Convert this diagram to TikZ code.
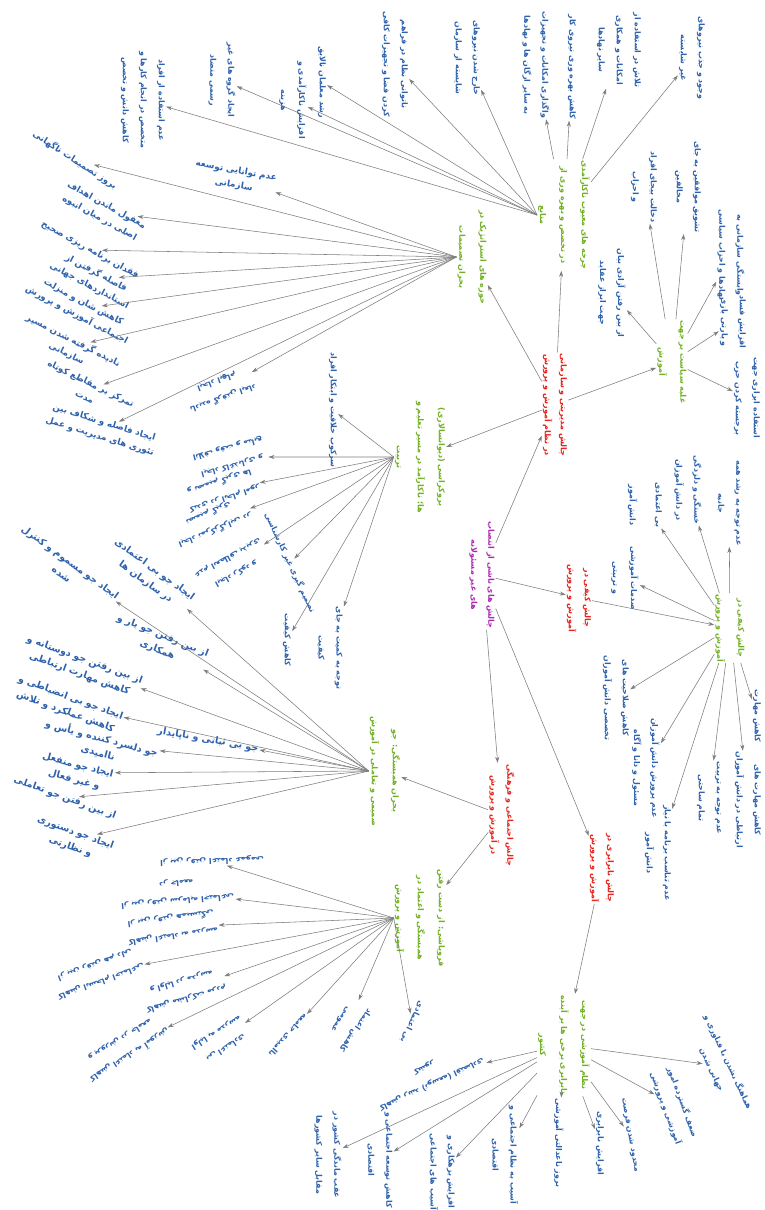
\documentclass[tikz,border=0pt]{standalone}
\usepackage{fontspec}
\newfontfamily\fa[Script=Arabic]{DejaVu Sans}
\TeXXeTstate=1
\usetikzlibrary{arrows.meta}
\definecolor{leafblue}{RGB}{46,98,172}
\definecolor{subgreen}{RGB}{114,176,36}
\definecolor{mainred}{RGB}{230,36,28}
\definecolor{rootpurple}{RGB}{172,40,178}
\definecolor{arrgray}{RGB}{125,125,125}
\newcommand{\rl}[1]{\beginR #1\endR}
\begin{document}
\begin{tikzpicture}[x=1pt,y=-1pt,
    every node/.style={font=\fa\bfseries\fontsize{7.9}{18}\selectfont, align=center, inner sep=1pt},
    leaf/.style={text=leafblue},
    tilted/.style={text=leafblue, font=\fa\bfseries\fontsize{8.8}{14.5}\selectfont},
    wide/.style={text=leafblue, font=\fa\bfseries\fontsize{9.6}{15}\selectfont},
    sub/.style={text=subgreen, font=\fa\bfseries\fontsize{8}{21}\selectfont},
    branch/.style={text=mainred, font=\fa\bfseries\fontsize{8}{16}\selectfont},
    hub/.style={text=rootpurple, font=\fa\bfseries\fontsize{8}{17}\selectfont},
    turned/.style={rotate=-90},
    arr/.style={->, >={Stealth[length=6pt,width=4pt]}, draw=arrgray, line width=0.55pt}]
  \fill[white] (0,0) rectangle (764,1210);
  \useasboundingbox (0,0) rectangle (764,1210);

  % root and main branches
  \node (root) [hub,turned] at (482,575) {\rl{چالش های ناشی از انتصاب}\\\rl{های غیر مسئولانه}};
  \node (mng) [branch,turned] at (555,405) {\rl{چالش مدیریتی و سازمانی}\\\rl{در نظام آموزش و پرورش}};
  \node (qual) [branch,turned] at (579,598) {\rl{چالش کیفی در}\\\rl{آموزش و پرورش}};
  \node (soc) [branch,turned] at (502,815) {\rl{چالش اجتماعی و فرهنگی}\\\rl{در آموزش و پرورش}};
  \node (ineq) [branch,turned] at (602,868) {\rl{چالش نابرابری در}\\\rl{آموزش و پرورش}};
  \draw[arr] (root) -- (mng);
  \draw[arr] (root) -- (qual);
  \draw[arr] (root) -- (soc);
  \draw[arr] (root) -- (ineq);

  % sub topics
  \node (res) [sub,turned] at (564,215) {\rl{چرخه های معیوب ناکارآمدی}\\\rl{در تخصص و بهره وری از}\\\rl{منابع}};
  \node (strat) [sub,turned] at (472,257) {\rl{حوزه های استراتژیک در}\\\rl{بحران تصمیمات}};
  \node (buro) [sub,turned] at (420,457) {\rl{بروکراسی (دیوانسالاری)}\\\rl{ها؛ ناکارآمد در مسیر تعلیم و}\\\rl{تربیت}};
  \node (pol) [sub,turned] at (672,362) {\rl{غلبه سیاست بر جهت}\\\rl{آموزش}};
  \node (qsub) [sub,turned] at (730,628) {\rl{چالش کیفی در}\\\rl{آموزش و پرورش}};
  \node (clim) [sub,turned] at (385,771) {\rl{بحران همبستگی: جو}\\\rl{صمیمی و تعاملی در آموزش}};
  \node (trust) [sub,turned] at (420,918) {\rl{فروپاشی: از دست رفتن}\\\rl{همبستگی و اعتماد در}\\\rl{آموزش و پرورش}};
  \node (fut) [sub,turned] at (564,1045) {\rl{نظام آموزشی در جهت}\\\rl{نابرابری برخی ها بر آینده}\\\rl{کشور}};
  \draw[arr] (mng) -- (res);
  \draw[arr] (mng) -- (strat);
  \draw[arr] (mng) -- (buro);
  \draw[arr] (mng) -- (pol);
  \draw[arr] (qual) -- (qsub);
  \draw[arr] (soc) -- (clim);
  \draw[arr] (soc) -- (trust);
  \draw[arr] (ineq) -- (fut);

  % resources
  \node (r1) [leaf,turned] at (692,58) {\rl{وجود و جذب نیروهای}\\\rl{غیر شایسته}};
  \node (r2) [leaf,turned] at (619,50) {\rl{تلاش در استفاده از}\\\rl{امکانات و همکاری}\\\rl{سایر نهادها}};
  \node (r3) [leaf,turned] at (572,67) {\rl{کاهش بهره وری نیروی کار}};
  \node (r4) [leaf,turned] at (536,65) {\rl{واگذاری امکانات و تجهیزات}\\\rl{به سایر ارگان ها و نهادها}};
  \node (r5) [leaf,turned] at (467,58) {\rl{خارج شدن نیروهای}\\\rl{شایسته از سازمان}};
  \node (r6) [leaf,turned] at (395,64) {\rl{ناتوانی نظام در فراهم}\\\rl{کردن فضا و تجهیزات کافی}};
  \node (r7) [leaf,turned] at (322,82) {\rl{رشد معلمان نالایق}};
  \node (r8) [leaf,turned] at (293,100) {\rl{افزایش ناکارآمدی و}\\\rl{هزینه}};
  \node (r9) [leaf,turned] at (222,80) {\rl{ایجاد گروه های غیر}\\\rl{رسمی متضاد}};
  \node (r10) [leaf,turned] at (143,100) {\rl{عدم استفاده از افراد}\\\rl{متخصص در انجام کارها و}\\\rl{کاهش دانش و تخصص}};
  \foreach \n in {r1,r2,r3,r4}
    \draw[arr] (res) -- (\n);
  \foreach \n in {r5,r6,r7,r8,r9,r10}
    \draw[arr] (res.south) -- (\n);

  % strategy
  \node (s1) [tilted,rotate=-10] at (235,178) {\rl{عدم توانایی توسعه}\\\rl{سازمانی}};
  \node (s2) [tilted,rotate=-33] at (75,160) {\rl{بروز تصمیمات ناگهانی}};
  \node (s3) [tilted,rotate=-29] at (103,212) {\rl{مغفول ماندن اهداف}\\\rl{اصلی در میان انبوه}};
  \node (s4) [tilted,rotate=-29] at (90,250) {\rl{فقدان برنامه ریزی صحیح}};
  \node (s5) [tilted,rotate=-28] at (93,279) {\rl{فاصله گرفتن از}\\\rl{استانداردهای جهانی}};
  \node (s6) [tilted,rotate=-28] at (80,309) {\rl{کاهش شان و منزلت}\\\rl{اجتماعی آموزش و پرورش}};
  \node (s7) [tilted,rotate=-27] at (70,347) {\rl{نادیده گرفته شدن مسیر}\\\rl{سازمانی}};
  \node (s8) [tilted,rotate=-26] at (88,390) {\rl{تمرکز بر مقاطع کوتاه}\\\rl{مدت}};
  \node (s9) [tilted,rotate=-17] at (102,430) {\rl{ایجاد فاصله و شکاف بین}\\\rl{تئوری های مدیریت و عمل}};
  \node (s10) [leaf,rotate=200] at (220,390) {\rl{نادیده گرفتن ابعاد}\\\rl{ایجاد ابهام}};
  \foreach \n in {s1,s2,s3,s4,s5,s6,s7,s8,s9,s10}
    \draw[arr] (strat.south) -- (\n);

  % politics
  \node (p1) [leaf,turned] at (612,293) {\rl{از بین رفتن آزادی بیان}\\\rl{جهت ابراز عقاید}};
  \node (p2) [leaf,turned] at (644,187) {\rl{دخالت بیجای افراد}\\\rl{و احزاب}};
  \node (p3) [leaf,turned] at (688,187) {\rl{تشویق موافقین به جای}\\\rl{مخالفین}};
  \node (p4) [leaf,turned] at (731,255) {\rl{وابستگی سازمانی به}\\\rl{نهادها و احزاب سیاسی}};
  \node (p5) [leaf,turned] at (733,322) {\rl{افزایش فساد}\\\rl{و پارتی بازی}};
  \node (p6) [leaf,turned] at (747,398) {\rl{استفاده ابزاری جهت}\\\rl{برجسته کردن حزب}};
  \foreach \n in {p1,p2,p3,p4,p5,p6}
    \draw[arr] (pol) -- (\n);

  % quality
  \node (q1) [leaf,turned] at (729,503) {\rl{عدم توجه به رشد همه}\\\rl{جانبه}};
  \node (q2) [leaf,turned] at (688,490) {\rl{خستگی و دلزدگی}\\\rl{در دانش آموزان}};
  \node (q3) [leaf,turned] at (645,505) {\rl{بی اعتمادی}\\[8pt]\rl{دانش آموز}};
  \node (q4) [leaf,turned] at (625,578) {\rl{صدمات آموزشی}\\\rl{و تربیتی}};
  \node (q5) [leaf,turned] at (757,716) {\rl{کاهش مهارت}};
  \node (q6) [leaf,turned] at (748,800) {\rl{کاهش مهارت های}\\\rl{ارتباطی در دانش آموزان}};
  \node (q7) [leaf,turned] at (709,798) {\rl{عدم توجه به تربیت}\\\rl{تمام ساحتی}};
  \node (q8) [leaf,turned] at (646,768) {\rl{عدم پرورش دانش آموزان}\\\rl{مسئول و دانا و آگاه}};
  \node (q9) [leaf,turned] at (658,853) {\rl{عدم تناسب برنامه با نیاز}\\\rl{دانش آموز}};
  \node (q10) [leaf,turned] at (616,698) {\rl{کاهش صلاحیت های}\\\rl{تخصصی دانش آموزان}};
  \foreach \n in {q1,q2,q3,q4,q5,q6,q7,q8,q9,q10}
    \draw[arr] (qsub) -- (\n);

  % bureaucracy
  \node (b1) [leaf,turned] at (333,410) {\rl{سرکوب خلاقیت و ابتکار افراد}};
  \node (b2) [leaf,rotate=195] at (230,457) {\rl{ایجاد کاغذبازی و}\\\rl{اتلاف وقت و منابع}};
  \node (b3) [leaf,rotate=198] at (222,490) {\rl{کندی در انجام امور}\\\rl{و تصمیم گیری ها}};
  \node (b4) [leaf,rotate=202] at (212,522) {\rl{ایجاد تمرکزگرایی در}\\\rl{تصمیم گیری}};
  \node (b5) [leaf,rotate=208] at (232,566) {\rl{ایجاد رکود و}\\\rl{عدم انعطاف پذیری}};
  \node (b6) [leaf,rotate=-65] at (290,563) {\rl{تصمیم گیری غیر کارشناسی}};
  \node (b7) [leaf,turned] at (287,640) {\rl{کاهش کیفیت}};
  \node (b8) [leaf,turned] at (330,648) {\rl{توجه به کمیت به جای}\\\rl{کیفیت}};
  \foreach \n in {b1,b2,b3,b4,b5,b6,b7,b8}
    \draw[arr] (buro.south) -- (\n);

  % climate
  \node (k1) [wide,rotate=-36] at (150,576) {\rl{ایجاد جو بی اعتمادی}\\\rl{در سازمان ها}};
  \node (k2) [wide,rotate=-36] at (66,568) {\rl{ایجاد جو مسموم و کنترل}\\\rl{شده}};
  \node (k3) [wide,rotate=-22] at (160,643) {\rl{از بین رفتن جو یار و}\\\rl{همکاری}};
  \node (k4) [wide,rotate=-20] at (82,667) {\rl{از بین رفتن جو دوستانه و}\\\rl{کاهش مهارت ارتباطی}};
  \node (k5) [wide,rotate=-20] at (68,705) {\rl{ایجاد جو بی انضباطی و}\\\rl{کاهش عملکرد و تلاش}};
  \node (k6) [wide,rotate=-10] at (208,740) {\rl{جو بی ثباتی و ناپایدار}};
  \node (k7) [wide,rotate=-15] at (100,745) {\rl{جو دلسرد کننده و یأس و}\\\rl{ناامیدی}};
  \node (k8) [wide,rotate=-15] at (76,773) {\rl{ایجاد جو منفعل}\\\rl{و غیر فعال}};
  \node (k9) [wide,rotate=-20] at (65,798) {\rl{از بین رفتن جو تعاملی}};
  \node (k10) [wide,rotate=-20] at (73,840) {\rl{ایجاد جو دستوری}\\\rl{و نظارتی}};
  \foreach \n in {k1,k2,k3,k4,k5,k6,k7,k8,k9,k10}
    \draw[arr] (clim.south) -- (\n);

  % trust
  \node (t1) [leaf,rotate=182] at (212,861) {\rl{از بین رفتن اعتماد عمومی}};
  \node (t2) [leaf,rotate=185] at (177,892) {\rl{از بین رفتن سرمایه اجتماعی}\\\rl{در جامعه}};
  \node (t3) [leaf,rotate=188] at (172,927) {\rl{کاهش اعتماد به مدرسه}\\\rl{از بین رفتن همبستگی}};
  \node (t4) [leaf,rotate=200] at (98,973) {\rl{کاهش انسجام اجتماعی}\\\rl{از بین رفتن هم دلی}};
  \node (t5) [leaf,rotate=196] at (184,990) {\rl{کاهش مشارکت مردم}\\\rl{و اولیا در مدرسه}};
  \node (t6) [leaf,rotate=212] at (125,1048) {\rl{کاهش اعتماد به آموزش}\\\rl{و پرورش در جامعه}};
  \node (t7) [leaf,rotate=212] at (221,1040) {\rl{بی اعتمادی}\\\rl{اولیا به مدرسه}};
  \node (t8) [leaf,rotate=228] at (288,1035) {\rl{ناامیدی جامعه}};
  \node (t9) [leaf,rotate=235] at (348,1025) {\rl{کاهش اعتماد}\\\rl{عمومی}};
  \node (t10) [leaf,rotate=245] at (412,1022) {\rl{بی اعتمادی}};
  \foreach \n in {t1,t2,t3,t4,t5,t6,t7,t8,t9,t10}
    \draw[arr] (trust.south) -- (\n);

  % future
  \node (f1) [leaf,rotate=-65] at (720,1066) {\rl{هماهنگ نشدن با فناوری و}\\\rl{جهانی شدن}};
  \node (f2) [leaf,rotate=-70] at (674,1105) {\rl{ضعف گسترده امور}\\\rl{آموزشی و پرورشی}};
  \node (f3) [leaf,rotate=-80] at (630,1135) {\rl{محدود شدن فرصت}};
  \node (f4) [leaf,turned] at (600,1143) {\rl{افزایش نابرابری}};
  \node (f5) [leaf,turned] at (559,1143) {\rl{بروز ناعدالتی آموزشی}};
  \node (f6) [leaf,turned] at (505,1155) {\rl{آسیب به نظام اجتماعی و}\\\rl{اقتصادی}};
  \node (f7) [leaf,turned] at (442,1172) {\rl{افزایش بزهکاری و}\\\rl{آسیب های اجتماعی}};
  \node (f8) [leaf,turned] at (380,1160) {\rl{کاهش توسعه اجتماعی و}\\\rl{اقتصادی}};
  \node (f9) [leaf,turned] at (328,1155) {\rl{عقب ماندگی کشور در}\\\rl{مقابل سایر کشورها}};
  \node (f10) [leaf,rotate=205] at (428,1076) {\rl{کاهش رشد (توسعه) اقتصادی}\\\rl{کشور}};
  \foreach \n in {f1,f2,f3,f4,f5,f6,f7,f8,f9,f10}
    \draw[arr] (fut) -- (\n);
\end{tikzpicture}
\end{document}
